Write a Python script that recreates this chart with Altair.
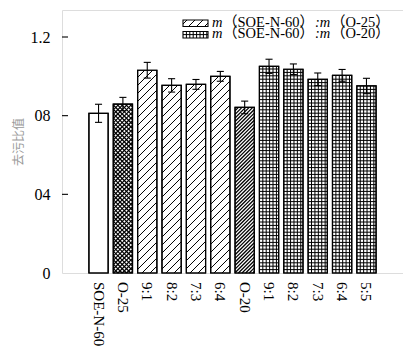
import altair as alt
import pandas as pd
import numpy as np

# ---- data ----
labels = ["SOE-N-60", "O-25", "9:1", "8:2", "7:3", "6:4", "O-20", "9:1", "8:2", "7:3", "6:4", "5:5"]
values = [0.812, 0.859, 1.031, 0.954, 0.959, 1.000, 0.842, 1.051, 1.036, 0.985, 1.005, 0.951]
errors = [0.046, 0.034, 0.040, 0.034, 0.025, 0.025, 0.032, 0.036, 0.027, 0.032, 0.030, 0.039]
patterns = ["none", "cross", "hatch", "hatch", "hatch", "hatch", "dense", "grid", "grid", "grid", "grid", "grid"]
y_ticks = [0, 0.4, 0.8, 1.2]
y_tick_labels = ["0", "04", "08", "1.2"]
legend_patterns = ["hatch", "grid"]
legend_mid = ["（SOE-N-60）", "（SOE-N-60）"]
legend_tail = ["（O-25）", "（O-20）"]

# ---- layout ----
W, H = 341, 263
XMAX = 14
YMAX = 1.3373
SX = W / XMAX
SY = H / YMAX
BAR_PAD = 0.105
FONT = "Liberation Serif"
MIXED = "Liberation Serif, Noto Sans CJK SC"
CJK = "Noto Sans CJK SC"

bars = pd.DataFrame({
    "idx": np.arange(len(labels)),
    "label": labels,
    "value": values,
    "err": errors,
})
bars["x0"] = bars["idx"] + 1 + BAR_PAD
bars["x1"] = bars["idx"] + 2 - BAR_PAD
bars["xc"] = bars["idx"] + 1.5
bars["lo"] = bars["value"] - bars["err"]
bars["hi"] = bars["value"] + bars["err"]
bars["zero"] = 0.0
bars["c0"] = bars["xc"] - 0.145
bars["c1"] = bars["xc"] + 0.145

STYLE = {
    "hatch": [("/", 8.0, 1.0)],
    "dense": [("/", 3.6, 1.3)],
    "cross": [("/", 4.3, 1.2), ("\\", 4.3, 1.2)],
    "grid": [("|", 3.4, 1.0), ("-", 3.4, 1.0)],
}


def pattern_lines(x0, x1, y0, y1, kind):
    X0, X1, Y0, Y1 = x0 * SX, x1 * SX, y0 * SY, y1 * SY
    segs = []
    for direction, step, sw in STYLE.get(kind, []):
        if direction == "/":
            b = np.floor((Y0 - X1) / step) * step
            while b < Y1 - X0:
                xa, xb = max(X0, Y0 - b), min(X1, Y1 - b)
                if xb > xa:
                    segs.append((xa, xa + b, xb, xb + b, sw))
                b += step
        elif direction == "\\":
            b = np.floor((Y0 + X0) / step) * step
            while b < Y1 + X1:
                xa, xb = max(X0, b - Y1), min(X1, b - Y0)
                if xb > xa:
                    segs.append((xa, b - xa, xb, b - xb, sw))
                b += step
        elif direction == "|":
            x = X0 + step
            while x < X1 - 0.5:
                segs.append((x, Y0, x, Y1, sw))
                x += step
        elif direction == "-":
            y = Y0 + step
            while y < Y1 - 0.5:
                segs.append((X0, y, X1, y, sw))
                y += step
    return [{"x": a / SX, "y": b / SY, "x2": c / SX, "y2": d / SY, "sw": s} for a, b, c, d, s in segs]


rows = []
for r in bars.itertuples():
    rows += pattern_lines(r.x0, r.x1, 0.0, r.value, patterns[r.idx])

# legend swatches (plot pixel boxes converted to data units)
leg_rows = []
leg_px = [(121, 146, 10.0, 16.5), (121, 146, 21.5, 28.0)]
for k, (px0, px1, pt, pb) in enumerate(leg_px):
    leg_rows.append({"x0": px0 / SX, "x1": px1 / SX, "y0": (H - pb) / SY, "y1": (H - pt) / SY,
                     "mid": legend_mid[k], "tail": legend_tail[k], "ty": (pt + pb) / 2 - 0.5})
    rows += pattern_lines(px0 / SX, px1 / SX, (H - pb) / SY, (H - pt) / SY, legend_patterns[k])
legend = pd.DataFrame(leg_rows)
hatch = pd.DataFrame(rows)

xscale = alt.Scale(domain=[0, XMAX], nice=False, zero=False)
yscale = alt.Scale(domain=[0, YMAX], nice=False)

ylab_js = "{" + ",".join("'%s':'%s'" % (str(v), l) for v, l in zip(y_ticks, y_tick_labels)) + "}"

base = alt.Chart(bars)

rect = base.mark_rect(fill="white", stroke="black", strokeWidth=1.2).encode(
    x=alt.X("x0:Q", scale=xscale, axis=None),
    x2="x1:Q",
    y=alt.Y("value:Q", scale=yscale,
            axis=alt.Axis(values=y_ticks, labelExpr=ylab_js + "[datum.value + '']",
                          ticks=False, domain=False, grid=False, labelPadding=12,
                          labelOverlap=False,
                          labelFont=FONT, labelFontSize=16, labelColor="black",
                          title="去污比值", titleFont=CJK, titleFontSize=12,
                          titleFontWeight="normal", titleColor="#9a9a9a", titlePadding=5)),
    y2="zero:Q",
)

xlabels = base.mark_text(font=FONT, fontSize=15, angle=90, align="left", baseline="middle",
                         color="black").encode(
    x="xc:Q", y=alt.value(H + 9), text="label:N"
)

hatch_layer = alt.Chart(hatch).mark_rule(color="black").encode(
    x="x:Q", x2="x2:Q", y="y:Q", y2="y2:Q",
    strokeWidth=alt.StrokeWidth("sw:Q", scale=None),
)

outline = base.mark_rect(fill=None, stroke="black", strokeWidth=1.2).encode(
    x="x0:Q", x2="x1:Q", y="value:Q", y2="zero:Q"
)

err_v = base.mark_rule(color="black", strokeWidth=1.1).encode(x="xc:Q", y="lo:Q", y2="hi:Q")
cap_hi = base.mark_rule(color="black", strokeWidth=1.1).encode(x="c0:Q", x2="c1:Q", y="hi:Q")
cap_lo = base.mark_rule(color="black", strokeWidth=1.1).encode(x="c0:Q", x2="c1:Q", y="lo:Q")

ticks_df = pd.DataFrame({"t": y_ticks[1:]})
yticks = alt.Chart(ticks_df).mark_rule(color="black", strokeWidth=1.1).encode(
    x=alt.value(0), x2=alt.value(6), y="t:Q"
)

leg_base = alt.Chart(legend)
leg_box = leg_base.mark_rect(fill=None, stroke="black", strokeWidth=1.1).encode(
    x="x0:Q", x2="x1:Q", y="y0:Q", y2="y1:Q"
)
ty = alt.Y("ty:Q", scale=None)
txt = dict(fontSize=14.5, baseline="middle", color="black", align="left")

leg_m1 = leg_base.mark_text(font=FONT, fontStyle="italic", **txt).encode(
    x=alt.value(150), y=ty, text=alt.value("m"))
leg_mid = leg_base.mark_text(font=MIXED, **txt).encode(
    x=alt.value(161), y=ty, text="mid:N")
leg_m2 = leg_base.mark_text(font=FONT, fontStyle="italic", **txt).encode(
    x=alt.value(253), y=ty, text=alt.value(":m"))
leg_tail = leg_base.mark_text(font=MIXED, **txt).encode(
    x=alt.value(269), y=ty, text="tail:N")

chart = alt.layer(
    rect, hatch_layer, outline, err_v, cap_hi, cap_lo, yticks, xlabels,
    leg_box, leg_m1, leg_mid, leg_m2, leg_tail,
).properties(
    width=W, height=H,
    autosize=alt.AutoSizeParams(type="none"),
    padding={"left": 54, "top": 2, "right": 0, "bottom": 74},
).configure_view(
    stroke="black", strokeWidth=1.2
).configure(
    font=FONT
)

chart.save("out.html", embed_options={"renderer": "svg", "actions": False})
